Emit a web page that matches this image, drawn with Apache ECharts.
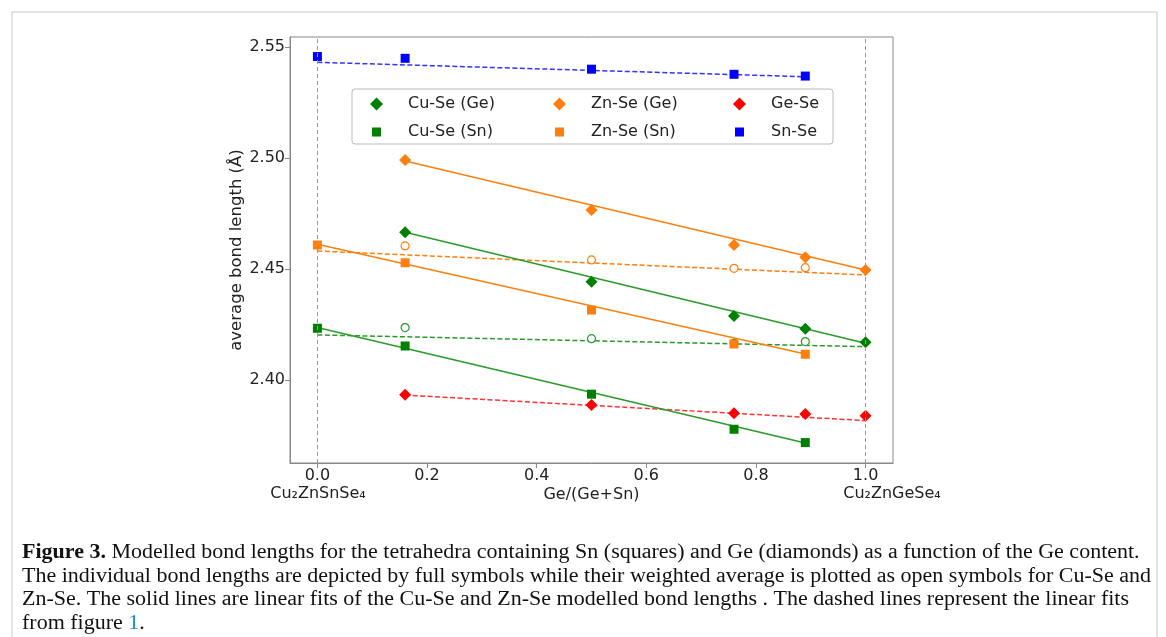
<!DOCTYPE html>
<html>
<head>
<meta charset="utf-8">
<script src="https://cdn.jsdelivr.net/npm/echarts@6/dist/echarts.min.js"></script>
<style>
  html, body { margin: 0; padding: 0; background: #fff; }
  #chart { width: 1166px; height: 637px; }
</style>
</head>
<body>
<div id="chart"></div>
<script>
// compositions Ge/(Ge+Sn)
var xGe = [0.16, 0.5, 0.76, 0.89, 1.0];
var xSn = [0.0, 0.16, 0.5, 0.76, 0.89];
var xAvg = [0.16, 0.5, 0.76, 0.89];

// modelled bond lengths (A)
var cuSeGe = [2.4665, 2.4443, 2.4288, 2.4231, 2.4170];
var znSeGe = [2.4991, 2.4766, 2.4608, 2.4553, 2.4495];
var geSe   = [2.3934, 2.3887, 2.3850, 2.3847, 2.3839];
var cuSeSn = [2.4233, 2.4153, 2.3936, 2.3778, 2.3718];
var znSeSn = [2.4608, 2.4528, 2.4315, 2.4162, 2.4116];
var snSe   = [2.5457, 2.5449, 2.5400, 2.5377, 2.5369];
// weighted averages (open symbols)
var cuSeAvg = [2.4236, 2.4186, 2.4165, 2.4173];
var znSeAvg = [2.4604, 2.4541, 2.4503, 2.4506];

// linear fits, end points [x, y]
var fitCuGe = [[0.16, 2.4665], [1.0, 2.4165]];
var fitZnGe = [[0.16, 2.4986], [1.0, 2.4495]];
var fitCuSn = [[0.0, 2.4236], [0.89, 2.3716]];
var fitZnSn = [[0.0, 2.4611], [0.89, 2.4117]];
// fits from figure 1 (dashed)
var dashCu = [[0.0, 2.4203], [1.0, 2.4150]];
var dashZn = [[0.0, 2.4581], [1.0, 2.4473]];
var dashGe = [[0.16, 2.3932], [1.0, 2.3817]];
var dashSn = [[0.0, 2.5431], [0.89, 2.5366]];

var xTicks = [0, 0.2, 0.4, 0.6, 0.8, 1.0];
var yTicks = [2.40, 2.45, 2.50, 2.55];

var GREEN = '#008000', GREEN_L = '#2a9a2a', ORANGE = '#ff7f0e', RED = '#ff0000', BLUE = '#0000ff';

// legend square with some empty margin so it reads smaller than the diamonds
var SQUARE_ICON = 'path://M0,0h0.01v0.01h-0.01zM2,2h9v9h-9zM12.99,12.99h0.01v0.01h-0.01z';

function pts(xs, ys) {
    var out = [];
    for (var i = 0; i < xs.length; i++) out.push([xs[i], ys[i]]);
    return out;
}

function fitLine(name, d, color, dashed) {
    return {
        name: name, type: 'line', data: d, symbol: 'none', silent: true, z: 2,
        lineStyle: {color: color, width: 1.5, type: dashed ? [5, 2.5] : 'solid'}
    };
}

function marks(name, xs, ys, symbol, size, color) {
    return {
        name: name, type: 'scatter', data: pts(xs, ys), symbol: symbol, symbolSize: size, z: 4,
        itemStyle: {color: color, opacity: 1}
    };
}

function openMarks(name, xs, ys, color) {
    return {
        name: name, type: 'scatter', data: pts(xs, ys), symbol: 'circle', symbolSize: 8, z: 3,
        itemStyle: {color: '#fff', borderColor: color, borderWidth: 1.2, opacity: 1}
    };
}

var font = 'DejaVu Sans';
var serif = 'Liberation Serif';

var chart = echarts.init(document.getElementById('chart'));

function legendCol(left, names) {
    return {
        orient: 'vertical', left: left, top: 96, padding: 0,
        itemWidth: 13, itemHeight: 13, itemGap: 12,
        data: names,
        textStyle: {fontFamily: font, fontSize: 16, color: '#222', padding: [0, 0, 0, 20]}
    };
}

function captionLine(y, text, rich) {
    return {
        type: 'text', x: 22, y: y, z: 10, scaleX: 1.1,
        style: {text: text, fontFamily: serif, fontSize: 20, fill: '#111', verticalAlign: 'middle', rich: rich || {}}
    };
}

var option = {
    animation: false,
    backgroundColor: '#fff',
    grid: {left: 290, right: 273, top: 37, bottom: 174, show: true, borderColor: '#888', borderWidth: 1},
    xAxis: {
        type: 'value', min: -0.05, max: 1.05,
        name: 'Ge/(Ge+Sn)', nameLocation: 'middle', nameGap: 24, nameMoveOverlap: false,
        nameTextStyle: {fontFamily: font, fontSize: 16, color: '#222'},
        axisLine: {show: true, onZero: false, lineStyle: {color: '#888'}},
        axisTick: {show: true, length: 5, lineStyle: {color: '#888'}, customValues: xTicks},
        axisLabel: {fontFamily: font, fontSize: 16, color: '#222', margin: 5, customValues: xTicks,
            formatter: function (v) { return v.toFixed(1); }},
        splitLine: {show: false}
    },
    yAxis: {
        type: 'value', min: 2.3626, max: 2.5545,
        name: 'average bond length (Å)', nameLocation: 'middle', nameGap: 45, nameMoveOverlap: false,
        nameTextStyle: {fontFamily: font, fontSize: 16.5, color: '#222'},
        axisLine: {show: true, onZero: false, lineStyle: {color: '#888'}},
        axisTick: {show: true, length: 5, lineStyle: {color: '#888'}, customValues: yTicks},
        axisLabel: {fontFamily: font, fontSize: 16, color: '#222', margin: 5, customValues: yTicks,
            formatter: function (v) { return v.toFixed(2); }},
        splitLine: {show: false}
    },
    legend: [
        legendCol(370, [{name: 'Cu-Se (Ge)', icon: 'diamond'}, {name: 'Cu-Se (Sn)', icon: SQUARE_ICON}]),
        legendCol(553, [{name: 'Zn-Se (Ge)', icon: 'diamond'}, {name: 'Zn-Se (Sn)', icon: SQUARE_ICON}]),
        legendCol(733, [{name: 'Ge-Se', icon: 'diamond'}, {name: 'Sn-Se', icon: SQUARE_ICON}])
    ],
    graphic: [
        {type: 'rect', shape: {x: 12, y: 12, width: 1145, height: 640}, silent: true, z: -10,
            style: {fill: 'none', stroke: '#c8c8c8', lineWidth: 1}},
        {type: 'rect', shape: {x: 352, y: 89, width: 481, height: 55, r: 3}, silent: true, z: 10,
            style: {fill: 'none', stroke: '#bbb', lineWidth: 1}},
        {type: 'text', x: 318, y: 494, z: 10, style: {text: 'Cu₂ZnSnSe₄', fontFamily: font, fontSize: 16,
            fill: '#222', align: 'center', verticalAlign: 'middle'}},
        {type: 'text', x: 892, y: 494, z: 10, style: {text: 'Cu₂ZnGeSe₄', fontFamily: font, fontSize: 16,
            fill: '#222', align: 'center', verticalAlign: 'middle'}},
        captionLine(553, '{b|Figure 3.} Modelled bond lengths for the tetrahedra containing Sn (squares) and Ge (diamonds) as a function of the Ge content.',
            {b: {fontFamily: serif, fontSize: 20, fontWeight: 'bold', fill: '#111'}}),
        captionLine(577, 'The individual bond lengths are depicted by full symbols while their weighted average is plotted as open symbols for Cu-Se and'),
        captionLine(600, 'Zn-Se. The solid lines are linear fits of the Cu-Se and Zn-Se modelled bond lengths . The dashed lines represent the linear fits'),
        captionLine(624, 'from figure {l|1}.', {l: {fontFamily: serif, fontSize: 20, fill: '#1a8fc9'}})
    ],
    series: [
        {
            name: 'bounds', type: 'line', data: [], silent: true,
            markLine: {
                symbol: 'none', silent: true, label: {show: false},
                lineStyle: {color: '#999', width: 1, type: [4, 3]},
                data: [{xAxis: 0}, {xAxis: 1}]
            }
        },
        fitLine('fit Sn-Se', dashSn, '#3333ff', true),
        fitLine('fit Ge-Se', dashGe, '#ff3333', true),
        fitLine('fit avg Cu', dashCu, GREEN_L, true),
        fitLine('fit avg Zn', dashZn, ORANGE, true),
        fitLine('fit Cu-Se (Ge)', fitCuGe, GREEN_L, false),
        fitLine('fit Zn-Se (Ge)', fitZnGe, ORANGE, false),
        fitLine('fit Cu-Se (Sn)', fitCuSn, GREEN_L, false),
        fitLine('fit Zn-Se (Sn)', fitZnSn, ORANGE, false),
        openMarks('avg Cu-Se', xAvg, cuSeAvg, GREEN_L),
        openMarks('avg Zn-Se', xAvg, znSeAvg, ORANGE),
        marks('Cu-Se (Ge)', xGe, cuSeGe, 'diamond', 12, GREEN),
        marks('Zn-Se (Ge)', xGe, znSeGe, 'diamond', 12, ORANGE),
        marks('Ge-Se', xGe, geSe, 'diamond', 12, RED),
        marks('Cu-Se (Sn)', xSn, cuSeSn, 'rect', 9, GREEN),
        marks('Zn-Se (Sn)', xSn, znSeSn, 'rect', 9, ORANGE),
        marks('Sn-Se', xSn, snSe, 'rect', 9, BLUE)
    ]
};

chart.setOption(option);
</script>
</body>
</html>
